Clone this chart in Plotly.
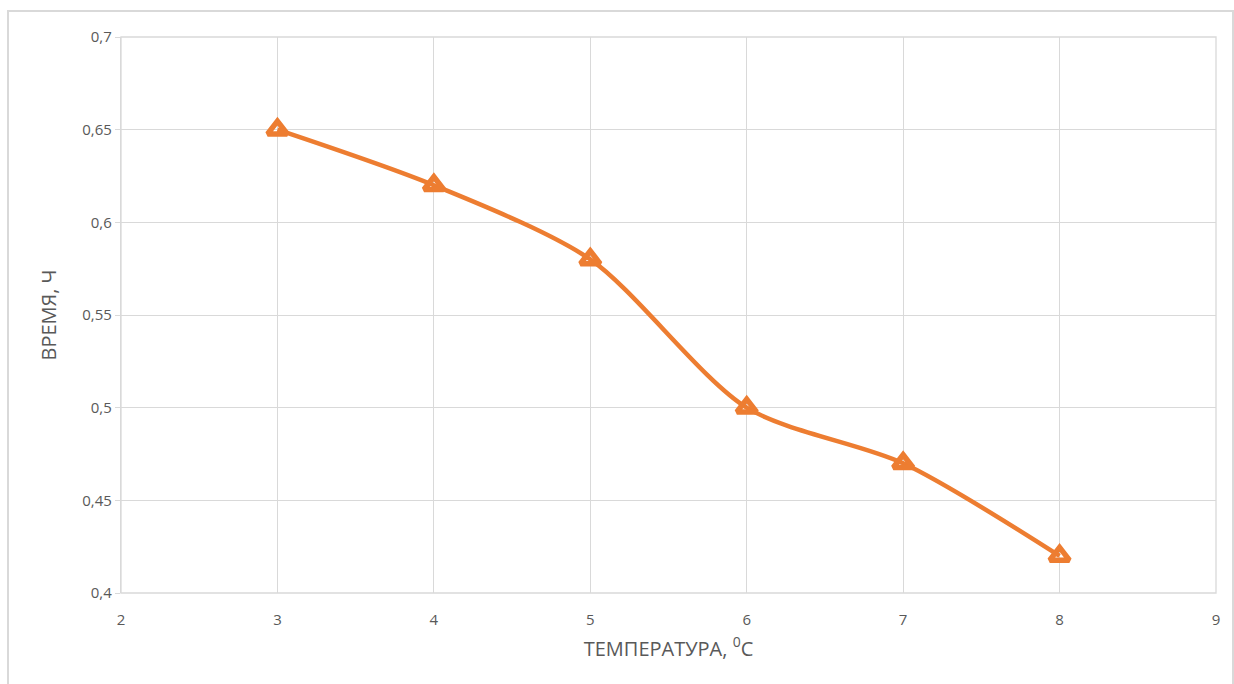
import plotly.graph_objects as go

# Temperature (°C) vs. time (h)
temperature = [3, 4, 5, 6, 7, 8]
time_h = [0.65, 0.62, 0.58, 0.50, 0.47, 0.42]

x_ticks = [2, 3, 4, 5, 6, 7, 8, 9]
y_ticks = [0.4, 0.45, 0.5, 0.55, 0.6, 0.65, 0.7]
y_tick_text = ["0,4", "0,45", "0,5", "0,55", "0,6", "0,65", "0,7"]

ORANGE = "#ED7D31"
GRID = "#D9D9D9"
TEXT = "#595959"

fig = go.Figure()
fig.add_trace(go.Scatter(
    x=temperature, y=time_h,
    mode="lines+markers",
    line=dict(color=ORANGE, width=4.5, shape="spline", smoothing=0.8),
    marker=dict(symbol="triangle-up-open", size=17, color=ORANGE,
                line=dict(color=ORANGE, width=5.5)),
    showlegend=False,
    cliponaxis=False,
))

W, H = 1234, 684
L, R, T, B = 121, 18, 37, 91
pw, ph = W - L - R, H - T - B

fig.update_layout(
    width=W, height=H,
    margin=dict(l=L, r=R, t=T, b=B),
    paper_bgcolor="white",
    plot_bgcolor="white",
    font=dict(family="Open Sans, Noto Sans, sans-serif", color=TEXT, size=15),
    xaxis=dict(
        range=[2, 9], tickvals=x_ticks, ticktext=[str(v) for v in x_ticks],
        showgrid=True, gridcolor=GRID, gridwidth=1.3,
        zeroline=False, showline=False,
        ticks="outside", ticklen=13, tickcolor="rgba(0,0,0,0)",
        tickfont=dict(size=15, color=TEXT),
        title=dict(text="ТЕМПЕРАТУРА, <sup>0</sup>C", font=dict(size=20, color=TEXT), standoff=13),
    ),
    yaxis=dict(
        range=[0.4, 0.7], tickvals=y_ticks, ticktext=y_tick_text,
        showgrid=True, gridcolor=GRID, gridwidth=1.3,
        zeroline=False, showline=True, linecolor=GRID, linewidth=1.3,
        ticks="outside", ticklen=5, tickcolor=GRID, tickwidth=1.3,
        tickfont=dict(size=15, color=TEXT),
        title=dict(text="ВРЕМЯ, Ч", font=dict(size=20, color=TEXT), standoff=20),
    ),
    shapes=[
        # outer chart frame
        dict(type="rect", xref="paper", yref="paper",
             x0=(8 - L) / pw, x1=(1233 - L) / pw,
             y0=(H - B - 700) / ph, y1=(H - B - 11) / ph,
             line=dict(color=GRID, width=2), fillcolor="rgba(0,0,0,0)", layer="below"),
        # plot-area frame
        dict(type="rect", xref="paper", yref="paper", x0=0, x1=1, y0=0, y1=1,
             line=dict(color=GRID, width=1.3), fillcolor="rgba(0,0,0,0)", layer="below"),
    ],
)

fig.write_html("out.html")
